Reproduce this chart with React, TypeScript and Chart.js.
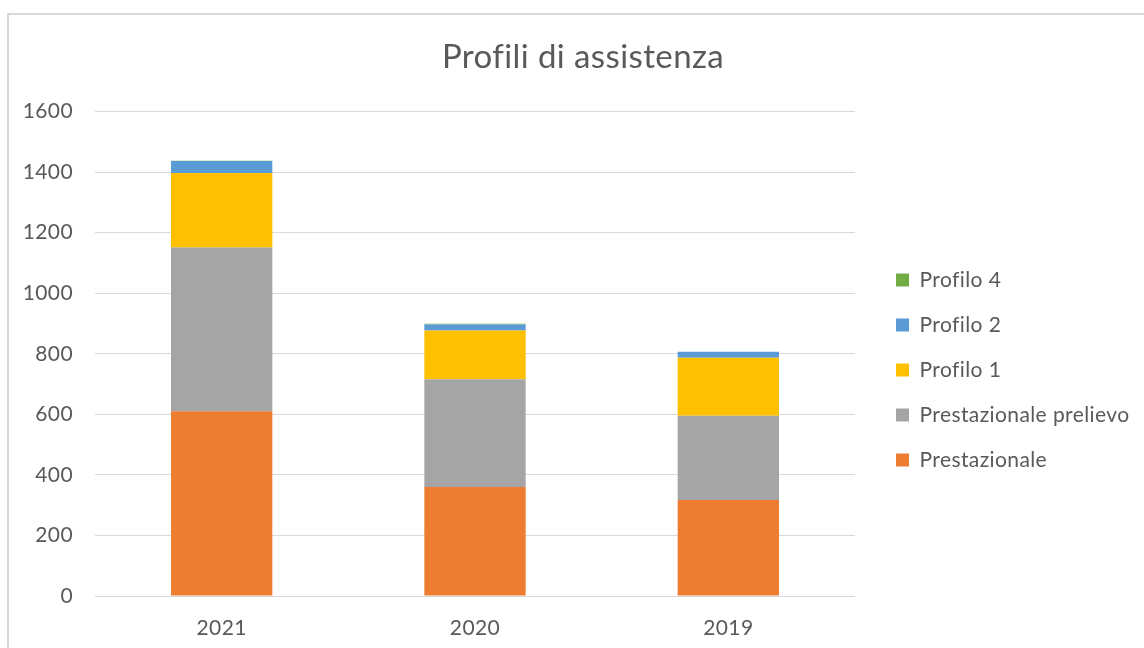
import React, { useEffect, useRef } from "react";
import { Chart, registerables } from "chart.js";

Chart.register(...registerables);

const years = ["2021", "2020", "2019"];
const prestazionale = [610, 360, 317];
const prestazionalePrelievo = [541, 356, 278];
const profilo1 = [246, 161, 192];
const profilo2 = [40, 20, 20];
const profilo4 = [1, 2, 0];
const yTicks = [0, 200, 400, 600, 800, 1000, 1200, 1400, 1600];

const FONT = "Lato, 'Liberation Sans', sans-serif";
const TEXT = "#595959";

const spacingPlugin = {
  id: "spacingPlugin",
  beforeLayout(chart: any) {
    chart.ctx.letterSpacing = "0.4px";
    const lg = chart.legend;
    if (lg && !lg.__patched) {
      lg.__patched = true;
      const orig = lg.fit;
      lg.fit = function () {
        orig.call(this);
        this.width = 1144 - 855;
      };
    }
  },
  afterLayout(chart: any) {
    const lg = chart.legend;
    if (lg) {
      lg.left = 896 - 24;
      lg.top += 46;
      lg.bottom += 46;
    }
  },
  beforeDraw(chart: any) {
    chart.ctx.letterSpacing = "0.4px";
  },
};

export default function App() {
  const ref = useRef<HTMLCanvasElement | null>(null);

  useEffect(() => {
    document.body.style.margin = "0";
    const ctx = ref.current!;
    const mk = (label: string, data: number[], color: string) => ({
      label,
      data,
      backgroundColor: color,
      borderWidth: 0,
      categoryPercentage: 1,
      barPercentage: 0.4,
    });
    const chart = new Chart(ctx, {
      type: "bar",
      data: {
        labels: years,
        datasets: [
          mk("Prestazionale", prestazionale, "#ED7D31"),
          mk("Prestazionale prelievo", prestazionalePrelievo, "#A5A5A5"),
          mk("Profilo 1", profilo1, "#FFC000"),
          mk("Profilo 2", profilo2, "#5B9BD5"),
          mk("Profilo 4", profilo4, "#70AD47"),
        ],
      },
      plugins: [spacingPlugin],
      options: {
        responsive: false,
        animation: false,
        layout: { padding: { left: 22, right: 0, top: 0, bottom: 0 } },
        plugins: {
          title: {
            display: true,
            text: "Profili di assistenza",
            color: TEXT,
            font: { family: FONT, size: 33, weight: "normal" },
            padding: { top: 38, bottom: 34 },
          },
          legend: {
            position: "right",
            reverse: true,
            labels: {
              color: TEXT,
              font: { family: FONT, size: 21 },
              boxWidth: 13,
              boxHeight: 13,
              padding: 24,
            },
          },
          tooltip: { enabled: false },
        },
        scales: {
          x: {
            stacked: true,
            grid: { display: false },
            border: { display: false },
            ticks: { color: TEXT, font: { family: FONT, size: 21 }, padding: 12 },
            afterFit: (s: any) => {
              s.height = 52;
            },
          },
          y: {
            stacked: true,
            min: 0,
            max: 1600,
            afterBuildTicks: (s: any) => {
              s.ticks = yTicks.map((v) => ({ value: v }));
            },
            grid: { color: "#D9D9D9", lineWidth: 1, drawTicks: false },
            border: { display: false },
            ticks: {
              color: TEXT,
              font: { family: FONT, size: 21 },
              padding: 22,
              callback: (v: any) => String(v),
            },
            afterFit: (s: any) => {
              s.width = 73;
            },
          },
        },
      },
    });
    return () => chart.destroy();
  }, []);

  return (
    <div style={{ position: "relative", width: 1144, height: 648, overflow: "hidden" }}>
      <canvas ref={ref} width={1144} height={648} style={{ position: "absolute", left: 0, top: 0 }} />
      <div
        style={{
          position: "absolute",
          left: 7,
          top: 13,
          width: 1200,
          height: 700,
          border: "2px solid #D9D9D9",
          pointerEvents: "none",
        }}
      />
    </div>
  );
}
